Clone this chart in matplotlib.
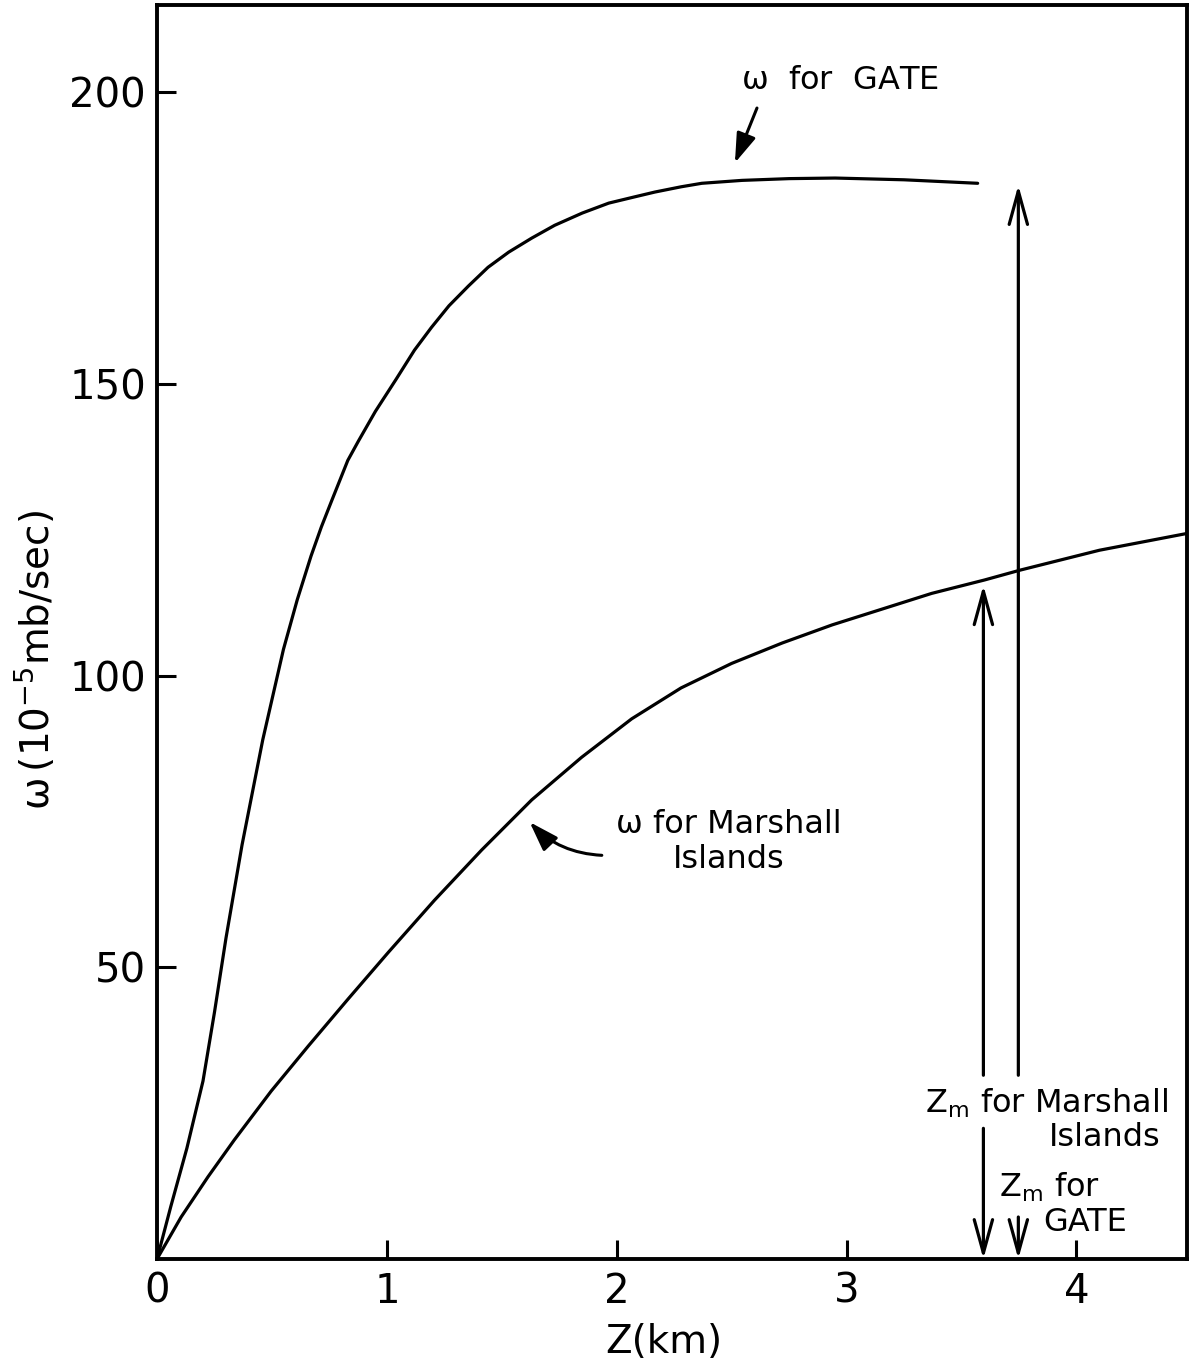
import matplotlib
matplotlib.use("Agg")
import matplotlib.pyplot as plt

plt.rcParams['font.family'] = ['DejaVu Sans']
plt.rcParams['mathtext.default'] = 'regular'

# omega profiles (Z in km, omega in 1e-5 mb/sec)
z_gate = [0, 0.06, 0.13, 0.20, 0.25, 0.30, 0.37, 0.46, 0.55, 0.61, 0.67, 0.715,
          0.76, 0.83, 0.876, 0.95, 1.04, 1.12, 1.194, 1.27, 1.355, 1.44, 1.53,
          1.63, 1.73, 1.85, 1.965, 2.07, 2.166, 2.28, 2.37, 2.545, 2.75, 2.95,
          3.25, 3.57]
w_gate = [0, 9.0, 19.0, 30.5, 42.3, 55.0, 71.0, 89.0, 104.5, 113.0, 120.5, 125.5,
          130.0, 136.9, 140.2, 145.3, 150.8, 155.8, 159.7, 163.4, 166.8, 170.0, 172.6,
          175.0, 177.2, 179.3, 181.0, 182.0, 182.9, 183.8, 184.4, 184.9, 185.2, 185.3,
          185.0, 184.4]

z_marshall = [0, 0.105, 0.222, 0.336, 0.497, 0.658, 0.832, 1.007, 1.207, 1.412,
              1.63, 1.847, 2.065, 2.28, 2.50, 2.72, 2.937, 3.37, 3.6, 3.756, 4.1, 4.484]
w_marshall = [0, 7.2, 14.1, 20.4, 28.8, 36.5, 44.6, 52.6, 61.5, 70.1,
              78.7, 86.0, 92.6, 97.9, 102.1, 105.6, 108.7, 114.1, 116.4, 118.1, 121.5, 124.4]

# mixed-layer tops Z_m and the omega reached there
zm_marshall, wm_marshall = 3.595, 115.5
zm_gate, wm_gate = 3.747, 184.1

x_ticks = [0, 1, 2, 3, 4]
y_ticks = [50, 100, 150, 200]

fig = plt.figure(figsize=(11.94, 13.67), dpi=100)
ax = fig.add_axes([0.1315, 0.0790, 0.8625, 0.9175])

ax.plot(z_gate, w_gate, color='black', lw=2.3, solid_capstyle='round',
        solid_joinstyle='round')
ax.plot(z_marshall, w_marshall, color='black', lw=2.3, solid_capstyle='round',
        solid_joinstyle='round')

ax.set_xlim(0, 4.48)
ax.set_ylim(0, 215)
ax.set_xticks(x_ticks)
ax.set_yticks(y_ticks)
ax.tick_params(direction='in', length=14, width=2.2, labelsize=29)
ax.tick_params(axis='x', pad=9)
ax.tick_params(axis='y', pad=8)
for sp in ax.spines.values():
    sp.set_linewidth(2.8)

# vertical Z_m arrows
open_head = dict(arrowstyle='->,head_length=1.2,head_width=0.33',
                 color='black', lw=2.3, mutation_scale=20, shrinkA=0, shrinkB=0)
ax.annotate('', xy=(zm_marshall, wm_marshall), xytext=(zm_marshall, 31.5),
            arrowprops=open_head)
ax.annotate('', xy=(zm_gate, wm_gate), xytext=(zm_gate, 31.5),
            arrowprops=open_head)
ax.annotate('', xy=(zm_marshall, 0), xytext=(zm_marshall, 22.4),
            arrowprops=open_head)
ax.annotate('', xy=(zm_gate, 0), xytext=(zm_gate, 7.2),
            arrowprops=open_head)

fs = 23
ax.text(3.342, 26.7, r'$Z_m$ for Marshall', fontsize=fs, ha='left', va='center')
ax.text(3.880, 20.9, 'Islands', fontsize=fs, ha='left', va='center')
ax.text(3.664, 12.3, r'$Z_m$ for', fontsize=fs, ha='left', va='center')
ax.text(3.855, 6.3, 'GATE', fontsize=fs, ha='left', va='center')

# curve labels
filled_head = dict(arrowstyle='-|>,head_length=0.9,head_width=0.3',
                   color='black', lw=2.2, mutation_scale=20, shrinkA=0, shrinkB=0)
ax.text(2.97, 202, r'$\omega$  for  GATE', fontsize=fs, ha='center', va='center')
ax.annotate('', xy=(2.514, 187.9), xytext=(2.61, 197.3), arrowprops=filled_head)

ax.text(2.488, 71.5, 'ω for Marshall\nIslands', fontsize=fs, ha='center',
        va='center', multialignment='center', linespacing=1.15)
ax.annotate('', xy=(1.621, 74.9), xytext=(1.935, 69.2),
            arrowprops=dict(filled_head, connectionstyle='arc3,rad=-0.2'))

fig.text(0.029, 0.517, r'$\omega\,(10^{-5}$mb/sec)', rotation=90, fontsize=28,
         ha='center', va='center')
fig.text(0.556, 0.018, 'Z(km)', fontsize=28, ha='center', va='center')

fig.savefig('out.png', dpi=100)
